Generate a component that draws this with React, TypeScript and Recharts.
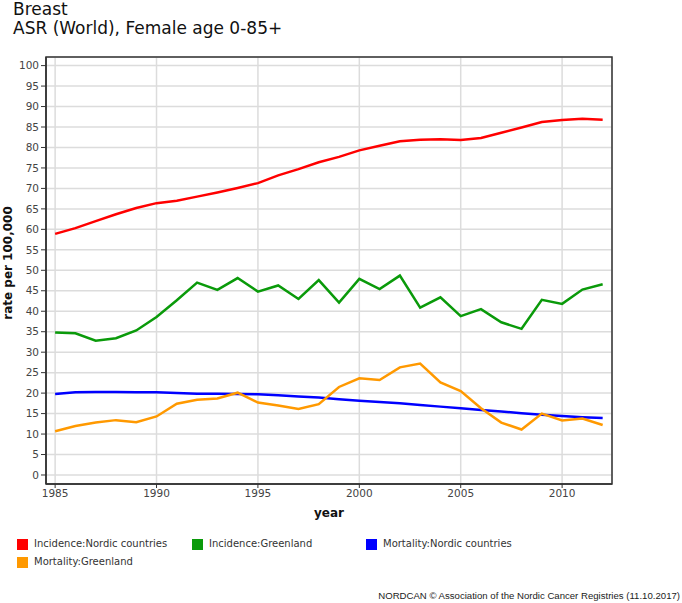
import React from "react";
import { LineChart, Line, XAxis, YAxis, CartesianGrid, ReferenceArea } from "recharts";

const years = [1985,1986,1987,1988,1989,1990,1991,1992,1993,1994,1995,1996,1997,1998,1999,2000,2001,2002,2003,2004,2005,2006,2007,2008,2009,2010,2011,2012];
const incidenceNordic = [58.9,60.3,62.0,63.7,65.2,66.4,67.0,68.0,69.0,70.1,71.3,73.2,74.7,76.4,77.7,79.3,80.4,81.5,81.9,82.0,81.8,82.3,83.6,84.9,86.2,86.7,87.0,86.8];
const incidenceGreenland = [34.8,34.6,32.8,33.4,35.3,38.6,42.7,47.0,45.2,48.1,44.8,46.3,43.0,47.6,42.1,47.9,45.4,48.7,40.9,43.4,38.8,40.5,37.3,35.7,42.8,41.8,45.3,46.6];
const mortalityNordic = [19.8,20.2,20.25,20.3,20.2,20.2,20.0,19.85,19.85,19.8,19.7,19.5,19.2,18.9,18.5,18.15,17.8,17.5,17.1,16.7,16.3,15.9,15.5,15.1,14.7,14.4,14.1,13.9];
const mortalityGreenland = [10.7,11.95,12.8,13.4,12.9,14.3,17.4,18.4,18.7,20.1,17.7,17.0,16.1,17.3,21.5,23.6,23.2,26.3,27.2,22.6,20.5,16.3,12.8,11.1,15.0,13.3,13.8,12.2];

const xTicks = [1985, 1990, 1995, 2000, 2005, 2010];
const yTicks = [0,5,10,15,20,25,30,35,40,45,50,55,60,65,70,75,80,85,90,95,100];

const series = [
  { key: "incNordic", name: "Incidence:Nordic countries", color: "#ff0000", values: incidenceNordic },
  { key: "incGreen", name: "Incidence:Greenland", color: "#0a9a0a", values: incidenceGreenland },
  { key: "morNordic", name: "Mortality:Nordic countries", color: "#0000ff", values: mortalityNordic },
  { key: "morGreen", name: "Mortality:Greenland", color: "#ff9900", values: mortalityGreenland },
];

const data = years.map((y, i) => {
  const row: any = { year: y };
  series.forEach((s) => { row[s.key] = s.values[i]; });
  return row;
});

const X_MIN = 1984.55;
const X_MAX = 2012.46;
const Y_MIN = -2.2;
const Y_MAX = 102.1;

const font = "'DejaVu Sans', Tahoma, sans-serif";

const legendPos = [
  { left: 17, top: 538 },
  { left: 192, top: 538 },
  { left: 366, top: 538 },
  { left: 17, top: 556 },
];

const YLabel = () => (
  <text x={12} y={263} transform="rotate(-90 12 263)" textAnchor="middle" fontFamily={font} fontSize={12} fontWeight="bold" fill="#111">
    rate per 100,000
  </text>
);

export default function App() {
  return (
    <div style={{ position: "absolute", left: 0, top: 0, width: 682, height: 603, background: "#fff", overflow: "hidden" }}>
      <div style={{ position: "absolute", left: 13, top: 0, fontFamily: font, fontSize: 17, color: "#111", lineHeight: "19px" }}>
        <div>Breast</div>
        <div>ASR (World), Female age 0-85+</div>
      </div>
      <LineChart width={682} height={603} data={data} margin={{ top: 57, right: 70, left: 0, bottom: 79 }}>
        <CartesianGrid stroke="#dcdcdc" strokeWidth={1.5} />
        <XAxis
          dataKey="year"
          type="number"
          domain={[X_MIN, X_MAX]}
          ticks={xTicks}
          allowDataOverflow
          height={40}
          tick={{ fontFamily: font, fontSize: 10.5, fill: "#444" }}
          tickSize={4}
          tickLine={{ stroke: "#333" }}
          axisLine={{ stroke: "#333", strokeWidth: 1.5 }}
          label={{ value: "year", position: "insideBottom", offset: 7, style: { fontFamily: font, fontSize: 12, fontWeight: "bold", fill: "#111" } }}
        />
        <YAxis
          type="number"
          domain={[Y_MIN, Y_MAX]}
          ticks={yTicks}
          allowDataOverflow
          width={46}
          interval={0}
          tick={{ fontFamily: font, fontSize: 10.5, fill: "#444" }}
          tickSize={5}
          tickLine={{ stroke: "#333" }}
          axisLine={{ stroke: "#333", strokeWidth: 1.5 }}
          label={{ value: "rate per 100,000", content: <YLabel /> }}
        />
        <ReferenceArea x1={X_MIN} x2={X_MAX} y1={Y_MIN} y2={Y_MAX} stroke="#333" strokeWidth={1.5} fill="none" fillOpacity={0} ifOverflow="visible" />
        {series.map((s) => (
          <Line key={s.key} type="linear" dataKey={s.key} name={s.name} stroke={s.color} strokeWidth={2.5} dot={false} activeDot={false} isAnimationActive={false} />
        ))}
      </LineChart>
      {series.map((s, i) => (
        <div key={s.key} style={{ position: "absolute", left: legendPos[i].left, top: legendPos[i].top, display: "flex", alignItems: "center", fontFamily: font, fontSize: 10, color: "#333", whiteSpace: "nowrap", lineHeight: "12px" }}>
          <span style={{ display: "inline-block", width: 11, height: 11, background: s.color, marginRight: 6 }} />
          <span>{s.name}</span>
        </div>
      ))}
      <div style={{ position: "absolute", right: 2, top: 590, fontFamily: "'Liberation Sans', Arial, sans-serif", fontSize: 9.6, color: "#222", whiteSpace: "nowrap" }}>
        NORDCAN © Association of the Nordic Cancer Registries (11.10.2017)
      </div>
    </div>
  );
}
